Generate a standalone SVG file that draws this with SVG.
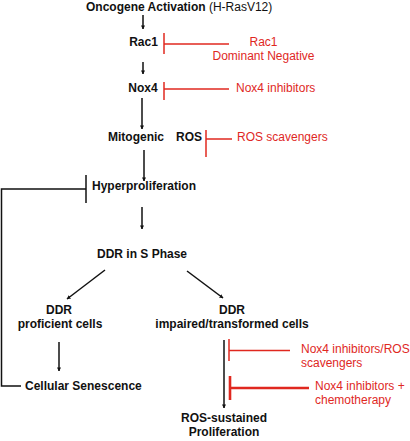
<svg xmlns="http://www.w3.org/2000/svg" width="410" height="441" viewBox="0 0 410 441">
<style>
text{font-family:"Liberation Sans",Arial,sans-serif;font-size:12px}
.b{font-weight:bold;fill:#111}
.r{fill:#e0281f}
.k{stroke:#111;stroke-width:1.5;fill:none}
.ka{stroke:#111;stroke-width:1.5;fill:none;marker-end:url(#ah)}
.rl{stroke:#e0281f;stroke-width:1.5;fill:none}
.rt{stroke:#e0281f;stroke-width:2.6;fill:none}
</style>
<defs>
<marker id="ah" viewBox="0 0 10 10" refX="9" refY="5" markerWidth="4" markerHeight="4" orient="auto" markerUnits="userSpaceOnUse">
<path d="M0,0 L10,5 L0,10 z" fill="#111"/>
</marker>
</defs>
<g id="connectors">
<line class="ka" x1="143" y1="15" x2="143" y2="29"/>
<line class="ka" x1="143" y1="62" x2="143" y2="74"/>
<line class="ka" x1="142" y1="98" x2="142" y2="129"/>
<line class="ka" x1="144" y1="150" x2="144" y2="181"/>
<line class="ka" x1="142" y1="207" x2="142" y2="229"/>
<line class="ka" x1="105" y1="270" x2="67" y2="299"/>
<line class="ka" x1="187" y1="271" x2="223" y2="298"/>
<line class="ka" x1="59" y1="342" x2="59" y2="371"/>
<line class="ka" x1="224" y1="340" x2="224" y2="408"/>
<polyline class="k" points="86,189 1.5,189 1.5,386 21,386"/>
<line class="k" x1="86" y1="175" x2="86" y2="203"/>
<line class="rl" x1="164" y1="33" x2="164" y2="54"/>
<line class="rl" x1="164" y1="44" x2="229" y2="44"/>
<line class="rl" x1="164" y1="82" x2="164" y2="100"/>
<line class="rl" x1="164" y1="89" x2="229" y2="89"/>
<line class="rl" x1="206" y1="130" x2="206" y2="157"/>
<line class="rl" x1="206" y1="139" x2="232" y2="139"/>
<line class="rl" x1="229" y1="339" x2="229" y2="361"/>
<line class="rl" x1="229" y1="350.5" x2="290" y2="350.5"/>
<line class="rt" x1="230" y1="376" x2="230" y2="400"/>
<line class="rt" x1="230" y1="388" x2="309" y2="388"/>
</g>
<g id="oncogene"><text class="b" x="86" y="11">Oncogene Activation <tspan style="font-weight:normal">(H-RasV12)</tspan></text></g>
<g id="rac1"><text class="b" x="143.5" y="46" text-anchor="middle">Rac1</text></g>
<g id="rac1dn"><text class="r" x="263.5" y="46" text-anchor="middle">Rac1</text><text class="r" x="263.5" y="60" text-anchor="middle">Dominant Negative</text></g>
<g id="nox4"><text class="b" x="143" y="92" text-anchor="middle">Nox4</text></g>
<g id="nox4inh"><text class="r" x="236" y="92">Nox4 inhibitors</text></g>
<g id="ros"><text class="b" x="108" y="141">Mitogenic</text><text class="b" x="176" y="141">ROS</text></g>
<g id="rosscav"><text class="r" x="237" y="141">ROS scavengers</text></g>
<g id="hyper"><text class="b" x="92" y="190">Hyperproliferation</text></g>
<g id="ddrs"><text class="b" x="97" y="258">DDR in S Phase</text></g>
<g id="ddrprof"><text class="b" x="59" y="314" text-anchor="middle">DDR</text><text class="b" x="60" y="328" text-anchor="middle">proficient cells</text></g>
<g id="ddrimp"><text class="b" x="232" y="314" text-anchor="middle">DDR</text><text class="b" x="232" y="328" text-anchor="middle">impaired/transformed cells</text></g>
<g id="senescence"><text class="b" x="25" y="389.5">Cellular Senescence</text></g>
<g id="inh1"><text class="r" x="301" y="353">Nox4 inhibitors/ROS</text><text class="r" x="301" y="367">scavengers</text></g>
<g id="inh2"><text class="r" x="315" y="390">Nox4 inhibitors +</text><text class="r" x="315" y="404">chemotherapy</text></g>
<g id="rosprolif"><text class="b" x="224" y="422" text-anchor="middle">ROS-sustained</text><text class="b" x="224" y="436" text-anchor="middle">Proliferation</text></g>
</svg>
